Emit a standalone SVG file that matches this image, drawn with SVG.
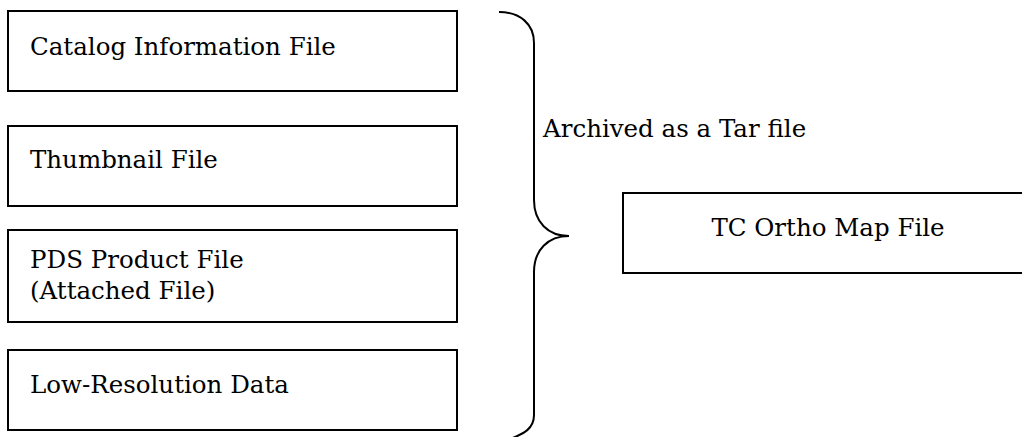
<svg xmlns="http://www.w3.org/2000/svg" width="1022" height="437" viewBox="0 0 1022 437">
<style>
.box{fill:#fff;stroke:#000;stroke-width:2}
.t{font-family:"DejaVu Serif","Liberation Serif",serif;font-size:24.5px;fill:#000}
.br{fill:none;stroke:#000;stroke-width:2}
</style>
<rect width="1022" height="437" fill="#fff"/>
<g id="catalog"><rect class="box" x="8" y="11" width="449" height="80"/><text class="t" x="30" y="55">Catalog Information File</text></g>
<g id="thumbnail"><rect class="box" x="8" y="126" width="449" height="80"/><text class="t" x="30" y="168">Thumbnail File</text></g>
<g id="pds"><rect class="box" x="8" y="230" width="449" height="92"/><text class="t" x="30" y="268">PDS Product File</text><text class="t" x="30" y="299">(Attached File)</text></g>
<g id="lowres"><rect class="box" x="8" y="350" width="449" height="80"/><text class="t" x="30" y="393">Low-Resolution Data</text></g>
<g id="tcortho"><rect class="box" x="623" y="193" width="410" height="80"/><text class="t" x="828" y="236" text-anchor="middle">TC Ortho Map File</text></g>
<g id="connectors">
<path class="br" d="M499,12 C520,12 534,24 534,43 L534,200 C534,222 548,236 569,236 C548,236 534,250 534,272 L534,415 C534,428 525,434 507,440"/>
<text class="t" x="543" y="137">Archived as a Tar file</text>
</g>
</svg>
